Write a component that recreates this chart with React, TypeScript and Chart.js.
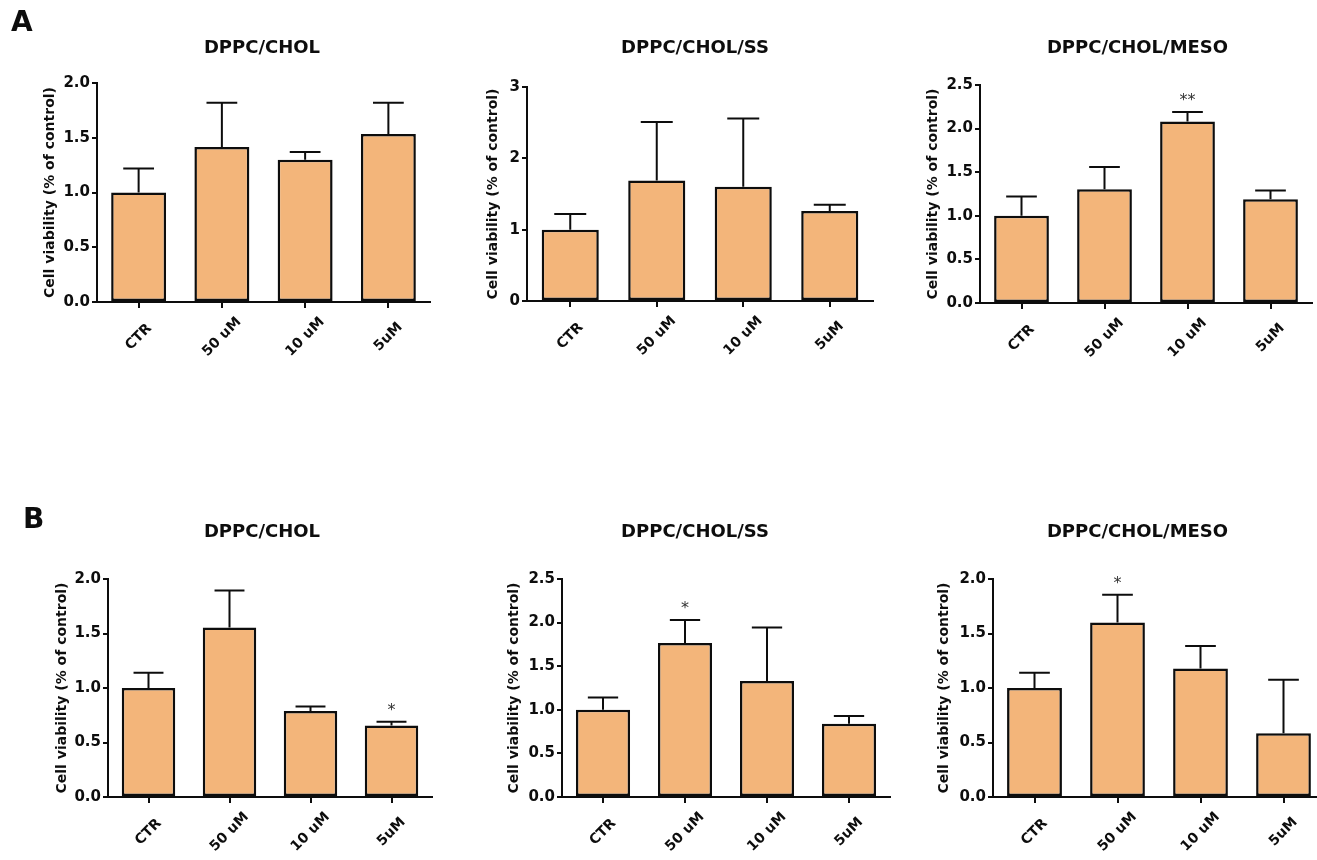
import React, { useEffect, useRef } from 'react';
import { Chart, registerables } from 'chart.js';

Chart.register(...registerables);

const FONT = '"DejaVu Sans", "Liberation Sans", Arial, sans-serif';
const BAR_FILL = '#F3B57A';
const INK = '#0d0d0d';

// ---------- data ----------
const categories = ['CTR', '50 uM', '10 uM', '5uM'];
const yAxisTitle = 'Cell viability (% of control)';

const titleA1 = 'DPPC/CHOL';
const titleA2 = 'DPPC/CHOL/SS';
const titleA3 = 'DPPC/CHOL/MESO';
const titleB1 = 'DPPC/CHOL';
const titleB2 = 'DPPC/CHOL/SS';
const titleB3 = 'DPPC/CHOL/MESO';

const meanA1 = [1.0, 1.415, 1.3, 1.535];
const semA1 = [0.22, 0.405, 0.07, 0.285];
const sigA1 = ['', '', '', ''];

const meanA2 = [1.0, 1.69, 1.6, 1.26];
const semA2 = [0.22, 0.82, 0.96, 0.09];
const sigA2 = ['', '', '', ''];

const meanA3 = [1.0, 1.305, 2.08, 1.19];
const semA3 = [0.22, 0.255, 0.11, 0.1];
const sigA3 = ['', '', '**', ''];

const meanB1 = [1.0, 1.555, 0.79, 0.655];
const semB1 = [0.14, 0.34, 0.04, 0.035];
const sigB1 = ['', '', '', '*'];

const meanB2 = [1.0, 1.765, 1.33, 0.84];
const semB2 = [0.14, 0.265, 0.615, 0.09];
const sigB2 = ['', '*', '', ''];

const meanB3 = [1.0, 1.6, 1.18, 0.585];
const semB3 = [0.14, 0.255, 0.205, 0.49];
const sigB3 = ['', '*', '', ''];

const yTicks2 = [0, 0.5, 1.0, 1.5, 2.0];
const yTickLabels2 = ['0.0', '0.5', '1.0', '1.5', '2.0'];
const yTicks25 = [0, 0.5, 1.0, 1.5, 2.0, 2.5];
const yTickLabels25 = ['0.0', '0.5', '1.0', '1.5', '2.0', '2.5'];
const yTicks3 = [0, 1, 2, 3];
const yTickLabels3 = ['0', '1', '2', '3'];

const panelLetters = ['A', 'B'];

// ---------- layout (pixel geometry of each panel) ----------
const X_AXIS_H = 70;
const layouts = [
  { left: 10, top: 0, titleX: 262, titleY: 48, axisX: 97, plotRight: 430, plotTop: 83, plotBottom: 302, yTitleX: 50 },
  { left: 450, top: 0, titleX: 695, titleY: 48, axisX: 527, plotRight: 873, plotTop: 87, plotBottom: 301, yTitleX: 493 },
  { left: 900, top: 0, titleX: 1137.5, titleY: 48, axisX: 980, plotRight: 1312, plotTop: 85, plotBottom: 303, yTitleX: 933 },
  { left: 20, top: 480, titleX: 262, titleY: 532, axisX: 108, plotRight: 432, plotTop: 579, plotBottom: 797, yTitleX: 62.5 },
  { left: 480, top: 480, titleX: 695, titleY: 532, axisX: 562, plotRight: 890, plotTop: 579, plotBottom: 797, yTitleX: 514.5 },
  { left: 910, top: 480, titleX: 1137.5, titleY: 532, axisX: 993, plotRight: 1325, plotTop: 579, plotBottom: 797, yTitleX: 944.5 },
];

const panels = [
  { title: titleA1, mean: meanA1, sem: semA1, sig: sigA1, yMax: 2, yTicks: yTicks2, yLabels: yTickLabels2 },
  { title: titleA2, mean: meanA2, sem: semA2, sig: sigA2, yMax: 3, yTicks: yTicks3, yLabels: yTickLabels3 },
  { title: titleA3, mean: meanA3, sem: semA3, sig: sigA3, yMax: 2.5, yTicks: yTicks25, yLabels: yTickLabels25 },
  { title: titleB1, mean: meanB1, sem: semB1, sig: sigB1, yMax: 2, yTicks: yTicks2, yLabels: yTickLabels2 },
  { title: titleB2, mean: meanB2, sem: semB2, sig: sigB2, yMax: 2.5, yTicks: yTicks25, yLabels: yTickLabels25 },
  { title: titleB3, mean: meanB3, sem: semB3, sig: sigB3, yMax: 2, yTicks: yTicks2, yLabels: yTickLabels2 },
];

function geom(l: typeof layouts[number]) {
  const width = 2 * (l.titleX - l.left);
  const height = l.plotBottom + X_AXIS_H - l.top;
  const padR = l.left + width - l.plotRight;
  const yW = l.axisX - l.left;
  const titleLH = 18 * 1.2;
  const tPadTop = l.titleY - l.top - titleLH / 2;
  const tPadBottom = l.plotTop - l.top - tPadTop - titleLH;
  const yTitlePad = l.yTitleX - l.left - (14 * 1.2) / 2;
  return { width, height, padR, yW, tPadTop, tPadBottom, yTitlePad };
}

function makeOverlay(sem: number[], sig: string[]) {
  return {
    id: 'errorsAndLabels',
    afterDatasetsDraw(chart: any) {
      const ctx = chart.ctx as CanvasRenderingContext2D;
      const meta = chart.getDatasetMeta(0);
      const ys = chart.scales.y;
      const xs = chart.scales.x;
      const data = chart.data.datasets[0].data as number[];
      ctx.save();
      ctx.strokeStyle = INK;
      ctx.lineWidth = 2;
      meta.data.forEach((bar: any, i: number) => {
        const x = bar.x;
        const y0 = bar.y;
        const y1 = ys.getPixelForValue(data[i] + sem[i]);
        const half = bar.width * 0.28;
        ctx.beginPath();
        ctx.moveTo(x, y0);
        ctx.lineTo(x, y1);
        ctx.moveTo(x - half, y1);
        ctx.lineTo(x + half, y1);
        ctx.stroke();
        if (sig[i]) {
          ctx.fillStyle = '#333333';
          ctx.font = `16px ${FONT}`;
          ctx.textAlign = 'center';
          ctx.textBaseline = 'alphabetic';
          ctx.fillText(sig[i], x, y1 - 7);
        }
      });
      ctx.fillStyle = INK;
      ctx.font = `bold 14px ${FONT}`;
      ctx.textAlign = 'center';
      ctx.textBaseline = 'middle';
      (chart.data.labels as string[]).forEach((lab, i) => {
        const x = xs.getPixelForValue(i);
        const y = xs.top + 35;
        ctx.save();
        ctx.translate(x, y);
        ctx.rotate(-Math.PI / 4);
        ctx.fillText(lab, 0, 0);
        ctx.restore();
      });
      ctx.restore();
    },
  };
}

function Panel({ idx }: { idx: number }) {
  const ref = useRef<HTMLCanvasElement | null>(null);
  const l = layouts[idx];
  const p = panels[idx];
  const g = geom(l);

  useEffect(() => {
    if (!ref.current) return;
    const chart = new Chart(ref.current, {
      type: 'bar',
      data: {
        labels: categories,
        datasets: [
          {
            data: p.mean,
            backgroundColor: BAR_FILL,
            borderColor: INK,
            borderWidth: 2.5,
            borderSkipped: false,
            barPercentage: 0.66,
            categoryPercentage: 1,
          },
        ],
      },
      options: {
        responsive: false,
        animation: false,
        events: [],
        layout: { padding: 0 },
        plugins: {
          legend: { display: false },
          tooltip: { enabled: false },
          title: {
            display: true,
            text: p.title,
            color: INK,
            fullSize: true,
            font: { family: FONT, size: 18, weight: 'bold', lineHeight: 1.2 },
            padding: { top: g.tPadTop, bottom: g.tPadBottom },
          },
        },
        scales: {
          x: {
            type: 'category',
            offset: true,
            grid: {
              display: true,
              drawOnChartArea: false,
              drawTicks: true,
              tickLength: 6,
              offset: false,
              color: INK,
              lineWidth: 2,
            },
            border: { display: true, color: INK, width: 2 },
            ticks: { display: false },
            afterFit: (s: any) => {
              s.height = X_AXIS_H;
            },
          },
          y: {
            type: 'linear',
            position: 'left',
            min: 0,
            max: p.yMax,
            afterBuildTicks: (s: any) => {
              s.ticks = p.yTicks.map((v) => ({ value: v }));
            },
            ticks: {
              color: INK,
              padding: 2,
              font: { family: FONT, size: 15, weight: 'bold' },
              callback: (_v: any, i: number) => p.yLabels[i],
            },
            grid: {
              display: true,
              drawOnChartArea: false,
              drawTicks: true,
              tickLength: 5,
              color: INK,
              lineWidth: 2,
            },
            border: { display: true, color: INK, width: 2 },
            title: {
              display: true,
              text: yAxisTitle,
              color: INK,
              font: { family: FONT, size: 14, weight: 'bold', lineHeight: 1.2 },
              padding: { top: g.yTitlePad, bottom: 0 },
            },
            afterFit: (s: any) => {
              s.width = g.yW;
            },
          },
          yR: {
            type: 'linear',
            position: 'right',
            display: true,
            grid: { display: false },
            border: { display: false },
            ticks: { display: false },
            afterFit: (s: any) => {
              s.width = g.padR;
            },
          },
        },
      } as any,
      plugins: [makeOverlay(p.sem, p.sig)],
    });
    return () => chart.destroy();
  }, []);

  return (
    <canvas
      ref={ref}
      width={g.width}
      height={g.height}
      style={{ position: 'absolute', left: l.left, top: l.top, width: g.width, height: g.height }}
    />
  );
}

export default function App() {
  return (
    <div
      style={{
        position: 'fixed',
        left: 0,
        top: 0,
        width: 1317,
        height: 860,
        overflow: 'hidden',
        background: '#ffffff',
      }}
    >
      {layouts.map((_, i) => (
        <Panel key={i} idx={i} />
      ))}
      <div
        style={{
          position: 'absolute',
          left: 11,
          top: 8,
          font: `bold 28px ${FONT}`,
          lineHeight: '28px',
          color: INK,
        }}
      >
        {panelLetters[0]}
      </div>
      <div
        style={{
          position: 'absolute',
          left: 23,
          top: 505,
          font: `bold 28px ${FONT}`,
          lineHeight: '28px',
          color: INK,
        }}
      >
        {panelLetters[1]}
      </div>
    </div>
  );
}
